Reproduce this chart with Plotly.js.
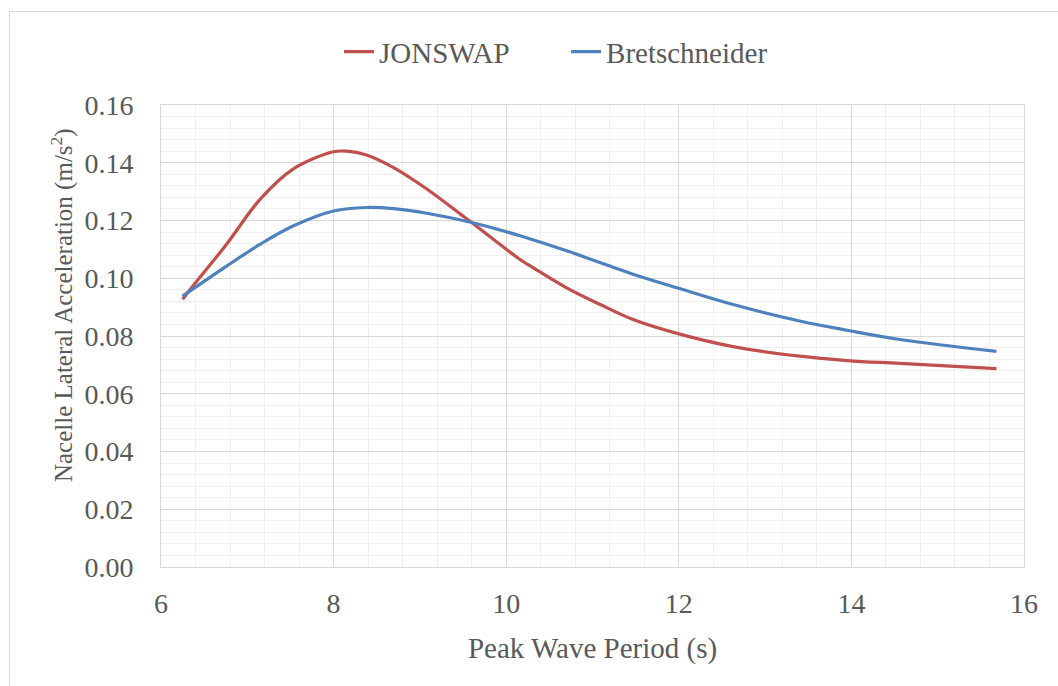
<!DOCTYPE html>
<html>
<head>
<meta charset="utf-8">
<script src="https://cdn.plot.ly/plotly-3.0.1.min.js"></script>
<style>
  html, body { margin: 0; padding: 0; background: #ffffff; }
  #wrap { position: relative; width: 1058px; height: 686px; overflow: hidden; }
  #frame { position: absolute; left: 9px; top: 11px; width: 1100px; height: 760px;
           border-left: 1px solid #d9d9d9; border-top: 1px solid #d9d9d9; box-sizing: border-box; }
  #chart { position: absolute; left: 0; top: 0; width: 1058px; height: 686px; }
</style>
</head>
<body>
<div id="wrap">
  <div id="frame"></div>
  <div id="chart"></div>
</div>
<script>
// Peak wave period (s) and nacelle lateral acceleration (m/s^2)
const periodJonswap = [6.25, 6.37, 6.76, 7.15, 7.53, 8.0, 8.15, 8.38, 8.69, 9.08, 9.47, 9.6, 9.85, 10.16, 10.31, 10.7, 11.09, 11.47, 11.98, 12.63, 13.4, 13.95, 14.56, 15.68];
const accelJonswap  = [0.0927, 0.0973, 0.1118, 0.1274, 0.1378, 0.1438, 0.1440, 0.1427, 0.1384, 0.1309, 0.1222, 0.1193, 0.1135, 0.1065, 0.1037, 0.0967, 0.0909, 0.0857, 0.0809, 0.0763, 0.0730, 0.0715, 0.0705, 0.0687];

const periodBretschneider = [6.25, 6.76, 7.15, 7.53, 8.0, 8.38, 8.69, 9.08, 9.6, 9.93, 10.16, 10.7, 11.47, 11.98, 12.63, 13.4, 13.95, 14.56, 15.68];
const accelBretschneider  = [0.0938, 0.1042, 0.1118, 0.1181, 0.1233, 0.1245, 0.1241, 0.1225, 0.1193, 0.1167, 0.1147, 0.1095, 0.1014, 0.0967, 0.0909, 0.0852, 0.0820, 0.0788, 0.0747];

const seriesNames = ["JONSWAP", "Bretschneider"];
const xTitle = "Peak Wave Period (s)";
const yTitle = "Nacelle Lateral Acceleration (m/s<sup>2</sup>)";

const fontFam = "Liberation Serif";
const textColor = "#595959";

const traces = [
  { x: periodJonswap, y: accelJonswap, name: seriesNames[0], type: "scatter", mode: "lines",
    line: { color: "#C0504D", width: 3.2, shape: "spline", smoothing: 1 } },
  { x: periodBretschneider, y: accelBretschneider, name: seriesNames[1], type: "scatter", mode: "lines",
    line: { color: "#4F81BD", width: 3.2, shape: "spline", smoothing: 1 } }
];

const layout = {
  width: 1058, height: 686,
  margin: { l: 161, r: 34, t: 105, b: 119 },
  paper_bgcolor: "rgba(0,0,0,0)", plot_bgcolor: "#ffffff",
  font: { family: fontFam, color: textColor, size: 28 },
  showlegend: true,
  legend: { orientation: "h", x: 0.2063, xanchor: "left", y: 1.115, yanchor: "middle",
            entrywidth: 182, entrywidthmode: "pixels",
            font: { family: fontFam, size: 29, color: textColor } },
  annotations: [{
    text: yTitle, textangle: -90, showarrow: false,
    xref: "paper", yref: "paper", x: -0.1147, y: 0.567, xanchor: "center", yanchor: "middle",
    font: { family: fontFam, size: 25, color: textColor }
  }],
  xaxis: {
    range: [6, 16], dtick: 2, tick0: 6, fixedrange: true,
    showgrid: true, gridcolor: "#d9d9d9",
    minor: { dtick: 0.4, showgrid: true, gridcolor: "#f0f0f0" },
    showline: true, linecolor: "#d9d9d9", mirror: true, zeroline: false, ticks: "", ticklabelstandoff: 11,
    tickfont: { family: fontFam, size: 28, color: textColor },
    title: { text: xTitle, standoff: 20, font: { family: fontFam, size: 29, color: textColor } }
  },
  yaxis: {
    range: [0, 0.16], dtick: 0.02, tick0: 0, fixedrange: true, tickformat: ".2f",
    showgrid: true, gridcolor: "#d9d9d9",
    minor: { dtick: 0.004, showgrid: true, gridcolor: "#f0f0f0" },
    showline: true, linecolor: "#d9d9d9", mirror: true, zeroline: false, ticks: "", ticklabelstandoff: 21,
    tickfont: { family: fontFam, size: 28, color: textColor }
  }
};

Plotly.newPlot("chart", traces, layout, { displayModeBar: false, staticPlot: true });
</script>
</body>
</html>
